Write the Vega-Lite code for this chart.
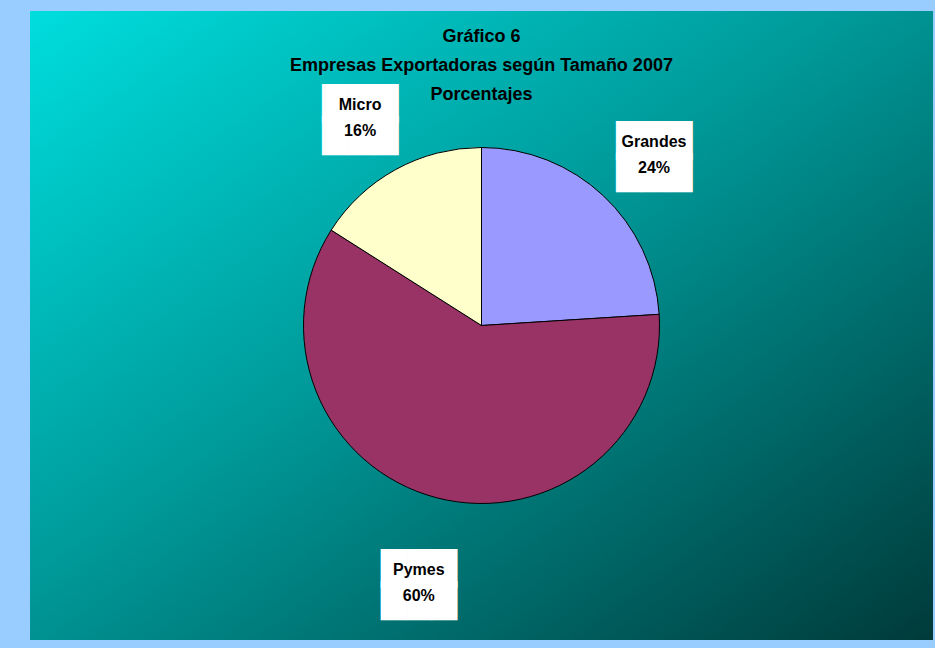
{
  "$schema": "https://vega.github.io/schema/vega-lite/v6.json",
  "width": 935,
  "height": 648,
  "autosize": {"type": "fit", "contains": "padding"},
  "padding": {"left": 30, "top": 11, "right": 2, "bottom": 8},
  "background": "#99CCFF",
  "config": {
    "view": {"stroke": null},
    "font": "Liberation Sans"
  },
  "title": {
    "text": ["Gráfico 6", "Empresas Exportadoras según Tamaño 2007", "Porcentajes"],
    "fontSize": 18,
    "fontWeight": "bold",
    "color": "#000000",
    "lineHeight": 29,
    "anchor": "middle",
    "offset": -93,
    "font": "Liberation Sans"
  },
  "data": {
    "values": [
      {"tamano": "Grandes", "porcentaje": 24, "orden": 1},
      {"tamano": "Pymes", "porcentaje": 60, "orden": 2},
      {"tamano": "Micro", "porcentaje": 16, "orden": 3}
    ]
  },
  "transform": [
    {"calculate": "datum.tamano + '\\n' + datum.porcentaje + '%'", "as": "etiqueta"}
  ],
  "layer": [
    {
      "data": {"values": [{"fondo": "area"}]},
      "mark": {
        "type": "rect",
        "color": {
          "gradient": "linear",
          "x1": 0, "y1": 0, "x2": 1, "y2": 1,
          "stops": [
            {"offset": 0, "color": "#00DDDD"},
            {"offset": 0.45, "color": "#009A9A"},
            {"offset": 1, "color": "#003A3A"}
          ]
        }
      }
    },
    {
      "mark": {"type": "arc", "outerRadius": 178, "stroke": "#000000", "strokeWidth": 1},
      "encoding": {
        "theta": {"field": "porcentaje", "type": "quantitative", "stack": true},
        "order": {"field": "orden", "type": "quantitative"},
        "color": {
          "field": "tamano",
          "type": "nominal",
          "scale": {"domain": ["Grandes", "Pymes", "Micro"], "range": ["#9999FF", "#993366", "#FFFFCC"]},
          "legend": null
        }
      }
    },
    {
      "mark": {"type": "text", "radius": 252, "text": "███\n███", "lineBreak": "\n", "fontSize": 33, "lineHeight": 32, "color": "#FFFFFF", "font": "DejaVu Sans"},
      "encoding": {
        "theta": {"field": "porcentaje", "type": "quantitative", "stack": true},
        "order": {"field": "orden", "type": "quantitative"}
      }
    },
    {
      "mark": {"type": "text", "radius": 252, "fontSize": 16, "fontWeight": "bold", "lineBreak": "\n", "lineHeight": 26, "color": "#000000", "font": "Liberation Sans"},
      "encoding": {
        "theta": {"field": "porcentaje", "type": "quantitative", "stack": true},
        "order": {"field": "orden", "type": "quantitative"},
        "text": {"field": "etiqueta"}
      }
    }
  ]
}
